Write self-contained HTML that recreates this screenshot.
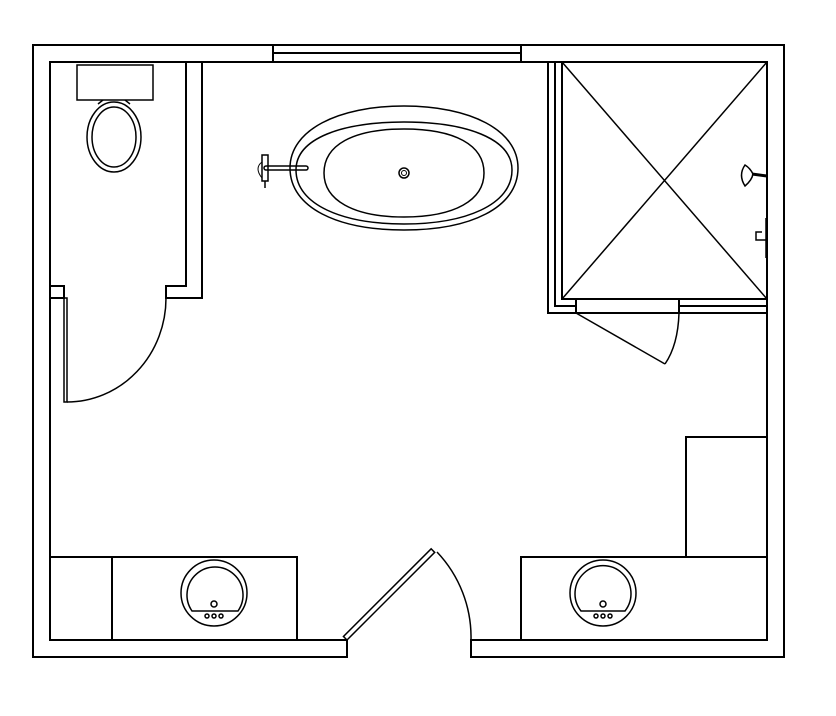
<!DOCTYPE html>
<html><head><style>html,body{margin:0;padding:0;background:#fff}svg{display:block}</style></head><body>
<svg width="836" height="716" viewBox="0 0 836 716" xmlns="http://www.w3.org/2000/svg" fill="none" stroke="#000" stroke-width="2">
<path d="M347,657 H33 V45 H784 V657 H471 V640 H767 V62 H50 V640 H347 Z" fill="#fff"/>
<rect x="273" y="45" width="248" height="17" fill="#fff"/>
<line x1="273" y1="53" x2="521" y2="53"/>
<path d="M186,62 V286 H166 V298 H202 V62"/>
<path d="M50,286 H64 V298 H50"/>
<rect x="64" y="298" width="3" height="104" stroke-width="1.5"/>
<path d="M166,298 A99,104 0 0 1 67,402" stroke-width="1.5"/>
<rect x="77" y="65" width="76" height="35" stroke-width="1.5"/>
<path d="M103,100 L98,104 M125,100 L130,104" stroke-width="1.5"/>
<ellipse cx="114" cy="137" rx="27" ry="35" stroke-width="1.5"/>
<ellipse cx="114" cy="137" rx="22" ry="30" stroke-width="1.5"/>
<path d="M548,62 V313 H767 M555,62 V306 H767 M562,62 V299 H767"/>
<rect x="562" y="62" width="205" height="237"/>
<line x1="562" y1="62" x2="767" y2="299" stroke-width="1.5"/>
<line x1="767" y1="62" x2="562" y2="299" stroke-width="1.5"/>
<rect x="576" y="299" width="103" height="14" fill="#fff"/>
<line x1="576" y1="313" x2="665" y2="364" stroke-width="1.5"/>
<path d="M679,313 Q678,345 665,364" stroke-width="1.5"/>
<path d="M752,174 L767,176" stroke-width="3"/>
<path d="M745,165 Q738,175 745,186 Q752,180 753,174 Q750,168 745,165Z" stroke-width="1.5"/>
<path d="M766,218 V258 M762,232 H756 V240 H766" stroke-width="1.5"/>
<path d="M404,106 C470,106 518,130 518,168 C518,208 470,230 404,230 C338,230 290,208 290,168 C290,130 338,106 404,106 Z" stroke-width="1.5"/>
<path d="M404,122 C465,122 512,138 512,170 C512,205 465,224 404,224 C343,224 296,205 296,170 C296,138 343,122 404,122 Z" stroke-width="1.5"/>
<path d="M404,129 C455,129 484,145 484,173 C484,200 455,217 404,217 C353,217 324,200 324,173 C324,145 353,129 404,129 Z" stroke-width="1.5"/>
<circle cx="404" cy="173" r="5" stroke-width="1.5"/>
<circle cx="404" cy="173" r="2.5" stroke-width="1"/>
<rect x="262" y="155" width="6" height="26" stroke-width="1.5"/>
<path d="M262,162 Q254,168 262,178" stroke-width="1"/>
<line x1="265" y1="181" x2="265" y2="188" stroke-width="1.5"/>
<rect x="264" y="166" width="44" height="4" rx="2" stroke-width="1.5"/>
<g transform="translate(347,640) rotate(-45)"><rect x="0" y="-5" width="124" height="5" stroke-width="1.5"/></g>
<path d="M437,552 A124,124 0 0 1 471,640" stroke-width="1.5"/>
<rect x="50" y="557" width="247" height="83"/>
<line x1="112" y1="557" x2="112" y2="640"/>
<rect x="521" y="557" width="246" height="83"/>
<rect x="686" y="437" width="81" height="120"/>
<g stroke-width="1.5">
<circle cx="214" cy="593" r="33"/>
<path d="M192,611 A28,28 0 1 1 238,611 Z"/>
<circle cx="214" cy="604" r="3"/>
<circle cx="207" cy="616" r="2"/><circle cx="214" cy="616" r="2"/><circle cx="221" cy="616" r="2"/>
<circle cx="603" cy="593" r="33"/>
<path d="M581,611 A28,28 0 1 1 625,611 Z"/>
<circle cx="603" cy="604" r="3"/>
<circle cx="596" cy="616" r="2"/><circle cx="603" cy="616" r="2"/><circle cx="610" cy="616" r="2"/>
</g>
</svg>
</body></html>
